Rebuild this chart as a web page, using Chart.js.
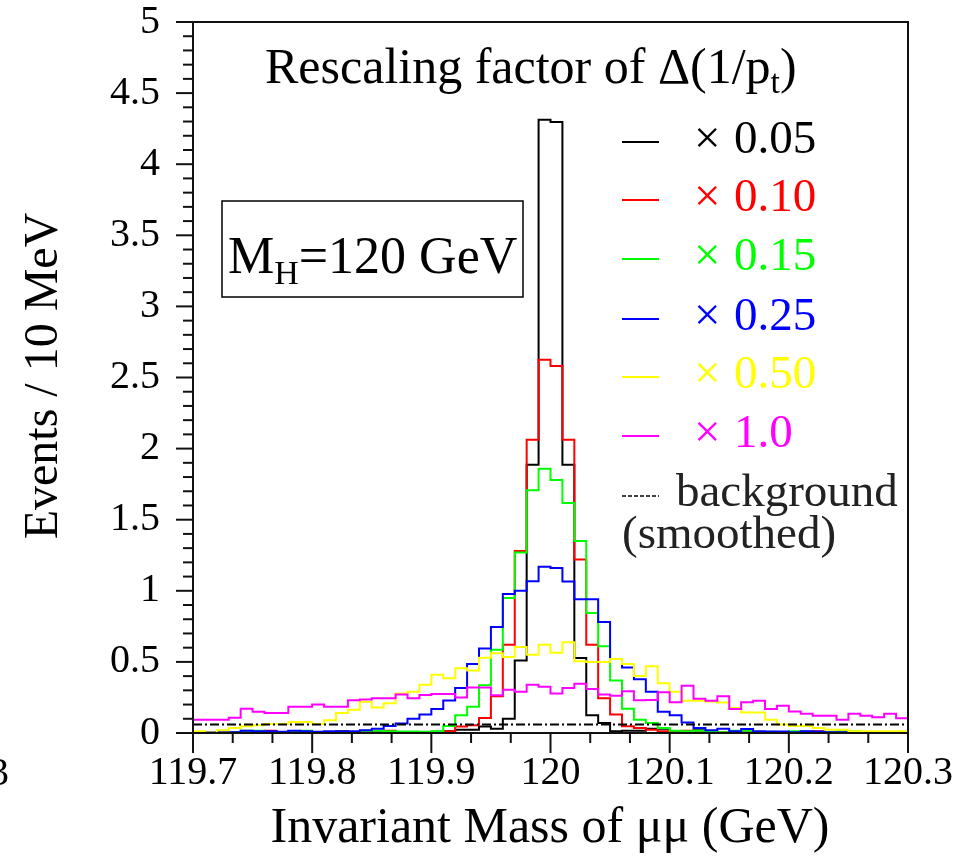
<!DOCTYPE html>
<html>
<head>
<meta charset="utf-8">
<script src="https://cdn.jsdelivr.net/npm/chart.js@4.4.1/dist/chart.umd.min.js"></script>
<style>
  html, body { margin: 0; padding: 0; background: #fff; }
</style>
</head>
<body>
<canvas id="myChart" width="953" height="856"></canvas>
<script>
// 60 bins of 10 MeV from 119.7 to 120.3 GeV
const binLow = 119.7;
const binWidth = 0.01;

const factors = ["0.05", "0.10", "0.15", "0.25", "0.50", "1.0"];
const colors = ["#000000", "#ff0000", "#00ff00", "#0000ff", "#ffff00", "#ff00ff"];

const x005 = [0.005, 0.003, 0.003, 0.005, 0.003, 0.005, 0.012, 0.005, 0.012, 0.005,
  0.003, 0.005, 0.012, 0.005, 0.003, 0.005, 0.003, 0.005, 0.005, 0.003,
  0.008, 0.012, 0.023, 0.023, 0.045, 0.03, 0.1, 0.51, 1.887, 4.313,
  4.297, 1.887, 0.527, 0.124, 0.07, 0.012, 0.016, 0.016, 0.03, 0.03,
  0.005, 0.005, 0.02, 0.005, 0.003, 0.005, 0.003, 0.005, 0.003, 0.005,
  0.003, 0.008, 0.003, 0.005, 0.003, 0.003, 0.005, 0.003, 0.003, 0.003];
const x010 = [0.003, 0.003, 0.003, 0.003, 0.003, 0.003, 0.016, 0.005, 0.005, 0.003,
  0.003, 0.003, 0.003, 0.003, 0.003, 0.003, 0.016, 0.003, 0.005, 0.005,
  0.005, 0.012, 0.045, 0.055, 0.105, 0.258, 0.62, 1.28, 2.063, 2.625,
  2.58, 2.063, 1.22, 0.62, 0.245, 0.13, 0.047, 0.035, 0.023, 0.012,
  0.005, 0.016, 0.005, 0.003, 0.005, 0.003, 0.005, 0.003, 0.003, 0.003,
  0.005, 0.003, 0.012, 0.003, 0.003, 0.003, 0.003, 0.003, 0.003, 0.003];
const x015 = [0.003, 0.003, 0.003, 0.003, 0.016, 0.016, 0.005, 0.005, 0.005, 0.016,
  0.005, 0.005, 0.005, 0.005, 0.016, 0.016, 0.012, 0.01, 0.01, 0.008,
  0.012, 0.05, 0.125, 0.185, 0.335, 0.585, 0.95, 1.27, 1.707, 1.859,
  1.78, 1.617, 1.35, 0.844, 0.61, 0.37, 0.17, 0.094, 0.07, 0.035,
  0.015, 0.012, 0.016, 0.01, 0.005, 0.016, 0.016, 0.008, 0.008, 0.005,
  0.012, 0.008, 0.005, 0.005, 0.016, 0.012, 0.005, 0.005, 0.003, 0.003];
const x025 = [0.005, 0.005, 0.005, 0.005, 0.016, 0.012, 0.012, 0.008, 0.016, 0.012,
  0.008, 0.012, 0.01, 0.012, 0.02, 0.03, 0.05, 0.066, 0.1, 0.13,
  0.168, 0.228, 0.316, 0.485, 0.595, 0.745, 0.977, 1.0, 1.067, 1.17,
  1.16, 1.065, 0.94, 0.94, 0.78, 0.52, 0.46, 0.378, 0.29, 0.15,
  0.125, 0.073, 0.035, 0.019, 0.03, 0.012, 0.028, 0.012, 0.01, 0.01,
  0.005, 0.012, 0.01, 0.005, 0.005, 0.005, 0.005, 0.003, 0.003, 0.003];
const x050 = [0.012, 0.003, 0.019, 0.035, 0.047, 0.054, 0.063, 0.063, 0.077, 0.077,
  0.063, 0.089, 0.14, 0.164, 0.22, 0.18, 0.21, 0.277, 0.29, 0.34,
  0.41, 0.385, 0.455, 0.44, 0.53, 0.56, 0.534, 0.605, 0.55, 0.62,
  0.565, 0.638, 0.504, 0.5, 0.5, 0.52, 0.485, 0.4, 0.47, 0.35,
  0.29, 0.227, 0.227, 0.222, 0.215, 0.176, 0.145, 0.145, 0.094, 0.06,
  0.05, 0.05, 0.035, 0.023, 0.023, 0.012, 0.012, 0.012, 0.012, 0.012];
const x100 = [0.094, 0.094, 0.094, 0.108, 0.17, 0.15, 0.14, 0.14, 0.185, 0.185,
  0.2, 0.185, 0.185, 0.23, 0.235, 0.245, 0.245, 0.27, 0.245, 0.268,
  0.275, 0.275, 0.25, 0.32, 0.32, 0.265, 0.305, 0.29, 0.34, 0.325,
  0.277, 0.316, 0.347, 0.31, 0.27, 0.262, 0.293, 0.23, 0.232, 0.286,
  0.216, 0.333, 0.241, 0.227, 0.258, 0.169, 0.216, 0.227, 0.169, 0.192,
  0.152, 0.136, 0.122, 0.122, 0.094, 0.136, 0.122, 0.11, 0.136, 0.103];

const bgX = [119.7, 120.3];
const bgY = [0.06, 0.06];

const yTicks = [0, 0.5, 1, 1.5, 2, 2.5, 3, 3.5, 4, 4.5, 5];
const xTicks = [119.7, 119.8, 119.9, 120, 120.1, 120.2, 120.3];

const serif = "'Liberation Serif', 'DejaVu Serif', serif";

// histogram outline: left edge of each bin carries the bin content
const makeSteps = (vals) => {
  const pts = [{ x: binLow, y: 0 }];
  vals.forEach((v, i) => pts.push({ x: binLow + i * binWidth, y: v }));
  const end = binLow + vals.length * binWidth;
  pts.push({ x: end, y: vals[vals.length - 1] });
  pts.push({ x: end, y: 0 });
  return pts;
};

const series = [x005, x010, x015, x025, x050, x100];
const datasets = series.map((vals, i) => ({
  label: "x " + factors[i],
  data: makeSteps(vals),
  borderColor: colors[i],
  borderWidth: 2,
  stepped: "before",
  pointRadius: 0,
  fill: false,
  clip: 4,
  order: 6 - i,
}));
datasets.push({
  label: "background (smoothed)",
  data: bgX.map((v, i) => ({ x: v, y: bgY[i] })),
  borderColor: "#000",
  borderWidth: 2,
  borderDash: [9, 3, 2, 3],
  pointRadius: 0,
  fill: false,
  order: 0,
});

const decorations = {
  id: "decorations",
  afterDraw(chart) {
    const { ctx, chartArea: a, scales } = chart;
    const xs = scales.x;
    const ys = scales.y;
    ctx.save();
    ctx.strokeStyle = "#111";
    ctx.lineWidth = 2;
    ctx.strokeRect(a.left, a.top, a.right - a.left, a.bottom - a.top);

    // y ticks: major every 0.5, minor every 0.1
    for (let k = 0; k <= 50; k++) {
      const py = ys.getPixelForValue(k / 10);
      const len = k % 5 === 0 ? 17 : 10;
      ctx.beginPath();
      ctx.moveTo(a.left - len, py);
      ctx.lineTo(a.left, py);
      ctx.stroke();
    }
    // x ticks: major every 0.1, minor every 0.1/3
    for (let k = 0; k <= 18; k++) {
      const px = xs.getPixelForValue(binLow + (k * 0.1) / 3);
      const len = k % 3 === 0 ? 20 : 10;
      ctx.beginPath();
      ctx.moveTo(px, a.bottom);
      ctx.lineTo(px, a.bottom + len);
      ctx.stroke();
    }

    ctx.fillStyle = "#000";
    ctx.textBaseline = "alphabetic";

    // axis titles
    ctx.font = "50px " + serif;
    ctx.textAlign = "center";
    ctx.fillText("Invariant Mass of \u03bc\u03bc (GeV)", 550, 842);
    ctx.save();
    ctx.font = "48px " + serif;
    ctx.translate(57, 376);
    ctx.rotate(-Math.PI / 2);
    ctx.fillText("Events / 10 MeV", 0, 0);
    ctx.restore();

    // stray cut-off label at the left edge
    ctx.textAlign = "left";
    ctx.font = "40px " + serif;
    ctx.fillText("3", -11, 785);

    // legend header
    ctx.font = "50px " + serif;
    const head = "Rescaling factor of \u0394(1/p";
    let tx = 265;
    ctx.fillText(head, tx, 83);
    tx += ctx.measureText(head).width;
    ctx.font = "34px " + serif;
    ctx.fillText("t", tx, 93);
    tx += ctx.measureText("t").width;
    ctx.font = "50px " + serif;
    ctx.fillText(")", tx, 83);

    // legend entries
    const rowY = [142, 200, 259, 319, 377, 436];
    ctx.font = "47px " + serif;
    factors.forEach((f, i) => {
      ctx.strokeStyle = colors[i];
      ctx.lineWidth = 2;
      ctx.beginPath();
      ctx.moveTo(622, rowY[i]);
      ctx.lineTo(659, rowY[i]);
      ctx.stroke();
      ctx.fillStyle = colors[i];
      ctx.fillText("\u00d7", 694, rowY[i] + 11);
      ctx.fillText(f, 734, rowY[i] + 11);
    });
    ctx.strokeStyle = "#000";
    ctx.lineWidth = 1.5;
    ctx.setLineDash([4, 2]);
    ctx.beginPath();
    ctx.moveTo(622, 496);
    ctx.lineTo(659, 496);
    ctx.stroke();
    ctx.setLineDash([]);
    ctx.fillStyle = "#222";
    ctx.fillText("background", 676, 506);
    ctx.fillText("(smoothed)", 622, 548);

    // mass label box
    ctx.fillStyle = "#fff";
    ctx.fillRect(222, 201, 301, 96);
    ctx.strokeStyle = "#000";
    ctx.lineWidth = 1.5;
    ctx.strokeRect(222, 201, 301, 96);
    ctx.fillStyle = "#000";
    ctx.font = "52px " + serif;
    let mx = 228;
    ctx.fillText("M", mx, 273);
    mx += ctx.measureText("M").width;
    ctx.font = "34px " + serif;
    ctx.fillText("H", mx, 284);
    mx += ctx.measureText("H").width;
    ctx.font = "52px " + serif;
    ctx.fillText("=120 GeV", mx, 273);

    ctx.restore();
  },
};

const ctx = document.getElementById("myChart").getContext("2d");
new Chart(ctx, {
  type: "line",
  data: { datasets },
  options: {
    responsive: false,
    animation: false,
    devicePixelRatio: 1,
    layout: { padding: { left: 0, right: 45, top: 22, bottom: 0 } },
    plugins: { legend: { display: false }, tooltip: { enabled: false } },
    scales: {
      x: {
        type: "linear",
        min: 119.7,
        max: 120.3,
        afterFit: (s) => {
          s.height = 123;
          s.paddingLeft = 0;
          s.paddingRight = 0;
        },
        afterBuildTicks: (s) => { s.ticks = xTicks.map((v) => ({ value: v })); },
        grid: { display: false, drawTicks: false },
        border: { display: false },
        ticks: {
          autoSkip: false,
          maxRotation: 0,
          padding: 16,
          color: "#000",
          font: { family: "Liberation Serif", size: 40 },
          callback: (v) => String(Math.round(v * 10) / 10),
        },
      },
      y: {
        min: 0,
        max: 5,
        afterFit: (s) => {
          s.width = 193;
          s.paddingTop = 0;
          s.paddingBottom = 0;
        },
        afterBuildTicks: (s) => { s.ticks = yTicks.map((v) => ({ value: v })); },
        grid: { display: false, drawTicks: false },
        border: { display: false },
        ticks: {
          padding: 33,
          color: "#000",
          font: { family: "Liberation Serif", size: 40 },
          callback: (v) => String(Math.round(v * 10) / 10),
        },
      },
    },
  },
  plugins: [decorations],
});
</script>
</body>
</html>
